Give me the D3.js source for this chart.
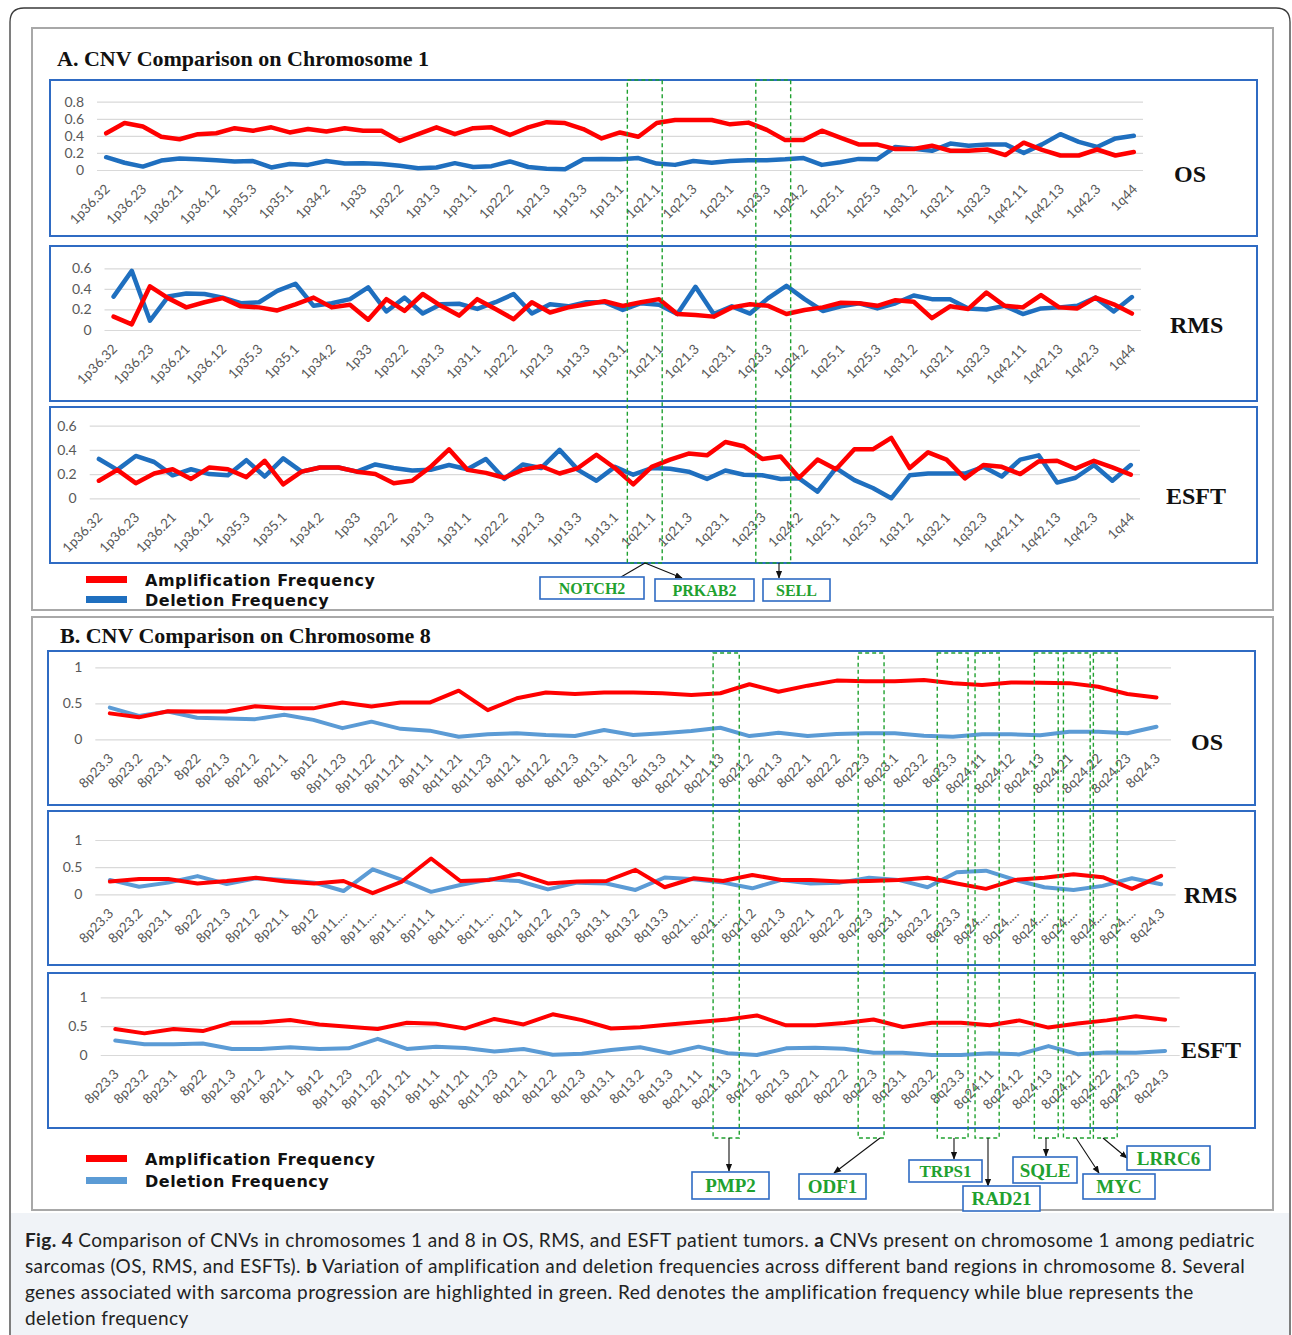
<!DOCTYPE html>
<html>
<head>
<meta charset="utf-8">
<script src="https://cdn.jsdelivr.net/npm/d3@7"></script>
<style>
  body { margin: 0; background: #fff; }
</style>
</head>
<body>
<div id="fig"></div>
<script>
// ---- chromosome 1 bands (57), a label is shown for every other band ----
var chr1Bands = ["1p36.32","1p36.31","1p36.23","1p36.22","1p36.21","1p36.13","1p36.12","1p36.11","1p35.3","1p35.2",
  "1p35.1","1p34.3","1p34.2","1p34.1","1p33","1p32.3","1p32.2","1p32.1","1p31.3","1p31.2",
  "1p31.1","1p22.3","1p22.2","1p22.1","1p21.3","1p21.1","1p13.3","1p13.2","1p13.1","1p12",
  "1q21.1","1q21.2","1q21.3","1q22","1q23.1","1q23.2","1q23.3","1q24.1","1q24.2","1q24.3",
  "1q25.1","1q25.2","1q25.3","1q31.1","1q31.2","1q31.3","1q32.1","1q32.2","1q32.3","1q41",
  "1q42.11","1q42.12","1q42.13","1q42.2","1q42.3","1q43","1q44"];

var osAmp1 = [0.43,0.55,0.51,0.39,0.36,0.42,0.43,0.49,0.46,0.50,0.44,0.48,0.45,0.49,0.46,0.46,0.34,0.42,0.50,0.42,
  0.49,0.50,0.41,0.50,0.56,0.55,0.48,0.37,0.44,0.39,0.55,0.585,0.585,0.585,0.535,0.555,0.47,0.35,0.35,0.46,
  0.38,0.30,0.30,0.245,0.245,0.285,0.225,0.225,0.24,0.175,0.32,0.235,0.17,0.17,0.24,0.17,0.21];
var osDel1 = [0.15,0.085,0.04,0.11,0.135,0.125,0.115,0.10,0.105,0.03,0.07,0.06,0.105,0.075,0.08,0.07,0.05,0.02,0.03,0.08,
  0.035,0.045,0.10,0.035,0.015,0.01,0.125,0.13,0.125,0.14,0.075,0.06,0.105,0.085,0.105,0.115,0.115,0.125,0.14,0.06,
  0.09,0.13,0.125,0.27,0.25,0.225,0.31,0.285,0.30,0.30,0.20,0.30,0.42,0.33,0.27,0.37,0.40];
var rmsAmp1 = [0.13,0.055,0.425,0.31,0.22,0.27,0.31,0.23,0.22,0.19,0.25,0.315,0.22,0.245,0.10,0.30,0.185,0.35,0.235,0.14,
  0.30,0.205,0.105,0.27,0.17,0.22,0.25,0.28,0.235,0.27,0.30,0.155,0.145,0.13,0.22,0.25,0.235,0.155,0.195,0.22,
  0.265,0.26,0.235,0.29,0.275,0.115,0.23,0.205,0.365,0.235,0.22,0.34,0.22,0.21,0.315,0.25,0.16];
var rmsDel1 = [0.325,0.575,0.09,0.325,0.355,0.35,0.315,0.26,0.27,0.38,0.45,0.235,0.26,0.30,0.415,0.18,0.315,0.16,0.25,0.255,
  0.205,0.27,0.35,0.16,0.25,0.23,0.27,0.27,0.195,0.26,0.245,0.155,0.42,0.155,0.23,0.16,0.31,0.43,0.30,0.185,
  0.23,0.26,0.21,0.26,0.335,0.30,0.30,0.21,0.20,0.235,0.155,0.21,0.22,0.235,0.315,0.18,0.32];
var esftAmp1 = [0.145,0.235,0.125,0.205,0.24,0.16,0.255,0.24,0.175,0.31,0.115,0.22,0.255,0.255,0.22,0.20,0.125,0.145,0.26,0.405,
  0.235,0.21,0.17,0.235,0.265,0.205,0.25,0.36,0.25,0.115,0.26,0.32,0.37,0.355,0.465,0.43,0.325,0.345,0.17,0.32,
  0.24,0.405,0.405,0.50,0.25,0.38,0.32,0.165,0.275,0.26,0.20,0.305,0.31,0.245,0.31,0.255,0.195];
var esftDel1 = [0.325,0.235,0.35,0.30,0.19,0.24,0.20,0.19,0.315,0.18,0.33,0.22,0.255,0.255,0.22,0.28,0.25,0.23,0.235,0.275,
  0.24,0.325,0.16,0.28,0.25,0.40,0.235,0.145,0.26,0.195,0.25,0.245,0.22,0.16,0.23,0.195,0.19,0.16,0.165,0.055,
  0.25,0.15,0.085,0.0,0.19,0.205,0.205,0.205,0.26,0.18,0.32,0.355,0.13,0.17,0.275,0.145,0.275];

// ---- chromosome 8 bands (37) ----
var chr8Bands = ["8p23.3","8p23.2","8p23.1","8p22","8p21.3","8p21.2","8p21.1","8p12","8p11.23","8p11.22",
  "8p11.21","8p11.1","8q11.21","8q11.23","8q12.1","8q12.2","8q12.3","8q13.1","8q13.2","8q13.3",
  "8q21.11","8q21.13","8q21.2","8q21.3","8q22.1","8q22.2","8q22.3","8q23.1","8q23.2","8q23.3",
  "8q24.11","8q24.12","8q24.13","8q24.21","8q24.22","8q24.23","8q24.3"];

var osAmp8 = [0.36,0.305,0.39,0.385,0.385,0.46,0.43,0.43,0.51,0.455,0.51,0.51,0.675,0.405,0.57,0.65,0.63,0.65,0.65,
  0.64,0.615,0.64,0.765,0.66,0.745,0.815,0.805,0.805,0.825,0.78,0.755,0.79,0.785,0.78,0.73,0.63,0.58];
var osDel8 = [0.44,0.325,0.385,0.30,0.29,0.28,0.34,0.27,0.155,0.245,0.145,0.12,0.035,0.07,0.085,0.06,0.045,0.13,0.06,
  0.085,0.115,0.16,0.045,0.09,0.045,0.075,0.085,0.085,0.05,0.035,0.07,0.07,0.055,0.105,0.105,0.085,0.175];
var rmsAmp8 = [0.235,0.28,0.28,0.20,0.245,0.305,0.235,0.20,0.245,0.02,0.235,0.66,0.245,0.265,0.375,0.20,0.235,0.245,0.45,
  0.13,0.295,0.245,0.355,0.265,0.265,0.235,0.245,0.265,0.305,0.20,0.10,0.265,0.305,0.37,0.315,0.10,0.34];
var rmsDel8 = [0.265,0.14,0.215,0.335,0.19,0.295,0.265,0.215,0.06,0.46,0.265,0.045,0.17,0.275,0.245,0.09,0.215,0.20,0.08,
  0.31,0.275,0.215,0.11,0.265,0.20,0.215,0.305,0.265,0.13,0.405,0.435,0.265,0.13,0.08,0.155,0.295,0.185];
var esftAmp8 = [0.45,0.375,0.45,0.415,0.56,0.565,0.605,0.53,0.49,0.45,0.56,0.54,0.46,0.625,0.53,0.705,0.605,0.46,0.48,
  0.53,0.57,0.615,0.685,0.515,0.515,0.555,0.615,0.485,0.56,0.56,0.515,0.60,0.475,0.545,0.60,0.67,0.61];
var esftDel8 = [0.25,0.185,0.185,0.20,0.105,0.105,0.135,0.105,0.115,0.28,0.105,0.145,0.12,0.06,0.105,0.005,0.02,0.085,0.135,
  0.03,0.145,0.03,0.0,0.115,0.125,0.11,0.04,0.04,0.0,0.0,0.03,0.01,0.155,0.015,0.045,0.04,0.07];

var ticks1 = [0, 0.2, 0.4, 0.6, 0.8];
var ticks1b = [0, 0.2, 0.4, 0.6];
var ticks8 = [0, 0.5, 1];

// highlighted bands (green dashed boxes)
var hiA = [["1p12","1q21.1"], ["1q23.3","1q24.1"]];
var hiB = ["8q21.13","8q22.3","8q23.3","8q24.11","8q24.13","8q24.21","8q24.22"];

var RED = "#ff0000";
var GREEN = "#1fa12f";

var W = 1292, H = 1335;
var svg = d3.select("#fig").append("svg").attr("width", W).attr("height", H);

var defs = svg.append("defs");
defs.append("marker").attr("id","arr").attr("viewBox","0 0 10 10").attr("refX",9).attr("refY",5)
  .attr("markerWidth",7).attr("markerHeight",7).attr("orient","auto")
  .append("path").attr("d","M0,1 L10,5 L0,9 z").attr("fill","#111");

// page frame and caption background
svg.append("rect").attr("x",11).attr("y",1213).attr("width",1278).attr("height",122).attr("fill","#f0f3f7");
svg.append("path").attr("d","M10,1335 V22 Q10,8 24,8 H1276 Q1290,8 1290,22 V1335")
  .attr("fill","none").attr("stroke","#3a3a3a").attr("stroke-width",1.3);

// panel frames
svg.append("rect").attr("x",32).attr("y",28).attr("width",1241).attr("height",582)
  .attr("fill","#fff").attr("stroke","#a8a8a8").attr("stroke-width",2);
svg.append("rect").attr("x",32).attr("y",617).attr("width",1241).attr("height",593)
  .attr("fill","#fff").attr("stroke","#a8a8a8").attr("stroke-width",2);

svg.append("text").attr("x",57).attr("y",66).text("A. CNV Comparison on Chromosome 1")
  .style("font","bold 22px 'Liberation Serif', serif").attr("fill","#111");
svg.append("text").attr("x",60).attr("y",643).text("B. CNV Comparison on Chromosome 8")
  .style("font","bold 22px 'Liberation Serif', serif").attr("fill","#111");

function truncLabel(d) { return d.length > 6 ? d.slice(0,5) + "\u2026" : d; }

function drawChart(c) {
  var g = svg.append("g");
  g.append("rect").attr("x",c.box[0]).attr("y",c.box[1]).attr("width",c.box[2]).attr("height",c.box[3])
    .attr("fill","#fff").attr("stroke","#2f6bc3").attr("stroke-width",2);

  var x = d3.scalePoint().domain(c.cats).range(c.xr).padding(0.5);
  var y = d3.scaleLinear().domain([0, c.yMax]).range([c.y0, c.yTop]);

  // gridlines + y labels
  g.append("g").attr("transform","translate(" + c.xr[0] + ",0)")
    .call(d3.axisLeft(y).tickValues(c.yTicks).tickSize(-(c.xr[1]-c.xr[0])).tickPadding(13).tickFormat(function(d){ return String(d); }))
    .call(function(a){ a.select(".domain").remove(); })
    .call(function(a){ a.selectAll("line").attr("stroke","#d9d9d9").attr("stroke-width",1.2); })
    .call(function(a){ a.selectAll("text").attr("fill","#595959").style("font","14px Lato, sans-serif"); });

  // rotated band labels
  var shown = c.cats.filter(function(d,i){ return i % c.every === 0; });
  g.append("g").attr("transform","translate(0," + c.y0 + ")")
    .call(d3.axisBottom(x).tickValues(shown).tickSize(0).tickFormat(c.fmt || function(d){ return d; }))
    .call(function(a){ a.select(".domain").remove(); })
    .call(function(a){
      a.selectAll("text").attr("x",0).attr("y",0).attr("dy",null)
        .attr("text-anchor","end").attr("transform","translate(4,20) rotate(-45)")
        .attr("fill","#595959").style("font", c.labelFont);
    });

  var line = d3.line().x(function(d,i){ return x(c.cats[i]); }).y(function(d){ return y(d); });
  g.append("path").datum(c.del).attr("d",line).attr("fill","none").attr("stroke",c.blue)
    .attr("stroke-width",c.lw).attr("stroke-linejoin","round").attr("stroke-linecap","round");
  g.append("path").datum(c.amp).attr("d",line).attr("fill","none").attr("stroke",RED)
    .attr("stroke-width",c.lw).attr("stroke-linejoin","round").attr("stroke-linecap","round");

  g.append("text").attr("x",c.name[1]).attr("y",c.name[2]).text(c.name[0])
    .style("font","bold 24px 'Liberation Serif', serif").attr("fill","#111");
  return x;
}

var blueA = "#1f6fbf", blueB = "#5b9bd5";
var fontA = "13.5px Lato, sans-serif", fontB = "13.5px Lato, sans-serif";

var xA = drawChart({box:[50,80,1207,156], xr:[97,1143], y0:170, yTop:101.7, yMax:0.8, yTicks:ticks1,
  cats:chr1Bands, every:2, amp:osAmp1, del:osDel1, blue:blueA, lw:4.5, labelFont:fontA, name:["OS",1174,182]});
drawChart({box:[50,246,1207,155], xr:[104.5,1141], y0:330, yTop:268.3, yMax:0.6, yTicks:ticks1b,
  cats:chr1Bands, every:2, amp:rmsAmp1, del:rmsDel1, blue:blueA, lw:4.5, labelFont:fontA, name:["RMS",1170,333]});
drawChart({box:[50,407,1207,156], xr:[89.7,1140], y0:498.3, yTop:425.7, yMax:0.6, yTicks:ticks1b,
  cats:chr1Bands, every:2, amp:esftAmp1, del:esftDel1, blue:blueA, lw:4.5, labelFont:fontA, name:["ESFT",1166,504]});

var xB = drawChart({box:[48,651,1207,154], xr:[95.3,1171], y0:739.3, yTop:667.3, yMax:1, yTicks:ticks8,
  cats:chr8Bands, every:1, amp:osAmp8, del:osDel8, blue:blueB, lw:4, labelFont:fontB, name:["OS",1191,750]});
drawChart({box:[48,811,1207,154], xr:[95.3,1175.7], y0:894.3, yTop:840, yMax:1, yTicks:ticks8,
  cats:chr8Bands, every:1, amp:rmsAmp8, del:rmsDel8, blue:blueB, lw:4, labelFont:fontB, fmt:truncLabel, name:["RMS",1184,903]});
drawChart({box:[48,973,1207,155], xr:[100.7,1179.7], y0:1055, yTop:997.3, yMax:1, yTicks:ticks8,
  cats:chr8Bands, every:1, amp:esftAmp8, del:esftDel8, blue:blueB, lw:4, labelFont:fontB, name:["ESFT",1181,1058]});

// green dashed highlight boxes
var stepA = xA.step(), stepB = xB.step();
hiA.forEach(function(p){
  var l = xA(p[0]) - 0.6*stepA, r = xA(p[1]) + 0.3*stepA;
  svg.append("rect").attr("x",l).attr("y",80).attr("width",r-l).attr("height",483)
    .attr("fill","none").attr("stroke",GREEN).attr("stroke-width",1.4).attr("stroke-dasharray","4,3");
});
// box edges relative to the band, in band steps
var padB = [[-0.25,0.65],[-0.26,0.63],[-0.54,0.52],[-0.24,0.59],[-0.2,0.62],[-0.2,0.72],[-0.17,0.65]];
hiB.forEach(function(b, i){
  var l = xB(b) + padB[i][0]*stepB, r = xB(b) + padB[i][1]*stepB;
  svg.append("rect").attr("x",l).attr("y",653).attr("width",r-l).attr("height",485)
    .attr("fill","none").attr("stroke",GREEN).attr("stroke-width",1.4).attr("stroke-dasharray","4,3");
});

// gene boxes
function gene(name, x, y, w, h, fs) {
  svg.append("rect").attr("x",x).attr("y",y).attr("width",w).attr("height",h)
    .attr("fill","#fff").attr("stroke","#2f6bc3").attr("stroke-width",1.6);
  svg.append("text").attr("x",x+w/2).attr("y",y+h/2).attr("dy","0.36em").attr("text-anchor","middle")
    .text(name).attr("fill",GREEN).style("font","bold " + fs + "px 'Liberation Serif', serif");
}
function arrow(x1,y1,x2,y2,head) {
  var p = svg.append("line").attr("x1",x1).attr("y1",y1).attr("x2",x2).attr("y2",y2)
    .attr("stroke","#111").attr("stroke-width",1.1);
  if (head !== false) p.attr("marker-end","url(#arr)");
}

arrow(645,563,621,577,false);
arrow(645,563,682,578);
arrow(779,563,779,578);
gene("NOTCH2",540,577,104,22,16);
gene("PRKAB2",655,579,99,22,16);
gene("SELL",763,579,67,22,16);

arrow(729,1138,729,1171);
arrow(880,1138,834,1173);
arrow(954,1138,954,1159);
arrow(988,1138,988,1186);
arrow(1046,1138,1046,1156);
arrow(1076,1138,1099,1173);
arrow(1103,1138,1127,1158);
gene("PMP2",692,1172,77,27,19);
gene("ODF1",799,1174,67,25,19);
gene("TRPS1",909,1160,73,22,17);
gene("RAD21",963,1186,77,25,19);
gene("SQLE",1013,1157,64,26,19);
gene("MYC",1083,1174,72,25,19);
gene("LRRC6",1127,1146,83,24,19);

// legends
function legendItem(y, col, label) {
  svg.append("rect").attr("x",86).attr("y",y).attr("width",41).attr("height",7).attr("fill",col);
  svg.append("text").attr("x",145).attr("y",y+10).text(label)
    .style("font","bold 16px 'DejaVu Sans', sans-serif").style("letter-spacing","0.5px").attr("fill","#111");
}
legendItem(576, RED, "Amplification Frequency");
legendItem(596, blueA, "Deletion Frequency");
legendItem(1155, RED, "Amplification Frequency");
legendItem(1177, blueB, "Deletion Frequency");

// caption (ragged lines, letter spacing set so that the first line fills its width)
var capLines = [
  [["Fig. 4",true],[" Comparison of CNVs in chromosomes 1 and 8 in OS, RMS, and ESFT patient tumors. ",false],["a",true],[" CNVs present on chromosome 1 among pediatric",false]],
  [["sarcomas (OS, RMS, and ESFTs). ",false],["b",true],[" Variation of amplification and deletion frequencies across different band regions in chromosome 8. Several",false]],
  [["genes associated with sarcoma progression are highlighted in green. Red denotes the amplification frequency while blue represents the",false]],
  [["deletion frequency",false]]
];
var capTexts = capLines.map(function(segs, i){
  var t = svg.append("text").attr("x",25).attr("y",1247 + i*26)
    .style("font","19px Lato, sans-serif").attr("fill","#222");
  segs.forEach(function(s){
    t.append("tspan").text(s[0]).style("font-weight", s[1] ? "bold" : "normal");
  });
  return t;
});
var first = capTexts[0];
var nChars = capLines[0].map(function(s){ return s[0]; }).join("").length;
var ls = (1230 - first.node().getComputedTextLength()) / nChars;
capTexts.forEach(function(t){ t.style("letter-spacing", ls + "px"); });
</script>
</body>
</html>
